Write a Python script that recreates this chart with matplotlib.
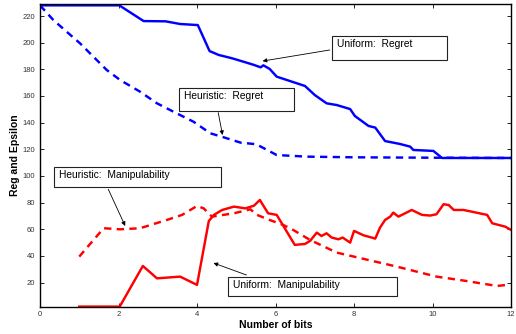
import numpy as np
import matplotlib.pyplot as plt
from matplotlib.patches import Rectangle

plt.rcParams['font.family'] = ['Liberation Sans', 'DejaVu Sans']

# Uniform: Regret (solid blue)
ur_x = [0, 2.02, 2.64, 3.2, 3.57, 4.02, 4.32, 4.55, 4.89, 5.23, 5.45, 5.62, 5.69, 5.85,
        6.03, 6.37, 6.75, 7.0, 7.3, 7.56, 7.9, 8.02, 8.37, 8.54, 8.79, 9.17, 9.43, 9.51,
        10.02, 10.24, 12]
ur_y = [228, 228, 216.2, 216, 214, 213.2, 193.7, 190.8, 188.3, 185.3, 183.3, 181.5, 183, 180.3,
        174.5, 171.2, 167.5, 160.7, 154.5, 153.2, 150.2, 145, 137.5, 136.3, 126.2, 124, 122, 119.5,
        118.8, 113.5, 113.5]

# Heuristic: Regret (dashed blue)
hr_x = [0, 0.34, 0.68, 1.02, 1.36, 1.7, 2.04, 2.55, 2.98, 3.4, 3.91, 4.34, 4.68, 5.11,
        5.51, 6.03, 6.8, 8.0, 10.0, 12]
hr_y = [228, 217, 208.2, 199.5, 189.5, 179.5, 172, 163.2, 154.5, 148.2, 140.7, 132, 129, 125,
        123.8, 115.7, 114.5, 114, 113.7, 113.5]

# Heuristic: Manipulability (dashed red)
hm_x = [1.0, 1.62, 2.04, 2.55, 3.23, 3.62, 4.0, 4.17, 4.38, 4.94, 5.36, 5.51, 5.85, 6.2,
        6.45, 6.88, 7.56, 8.07, 9.09, 10.1, 10.8, 11.64, 11.9]
hm_y = [39.5, 60.8, 60, 60.8, 67, 70.8, 77.5, 75.7, 69.5, 72, 75, 71, 67, 63.2,
        59.5, 52, 42.5, 39, 32, 24.5, 21.5, 17.5, 18.3]

# Uniform: Manipulability (solid red)
um_x = [1.0, 2.03, 2.62, 2.98, 3.57, 4.0, 4.3, 4.43, 4.64, 4.94, 5.23, 5.45, 5.6, 5.81,
        6.03, 6.49, 6.75, 6.88, 7.05, 7.17, 7.3, 7.43, 7.6, 7.71, 7.9, 8.0, 8.24, 8.45,
        8.54, 8.66, 8.79, 8.92, 9.0, 9.13, 9.3, 9.47, 9.73, 9.94, 10.1, 10.28, 10.41, 10.54,
        10.79, 11.39, 11.52, 11.85, 12]
um_y = [2, 2, 32.5, 23.2, 24.5, 18.3, 66.2, 70.8, 74.5, 77, 75.7, 77.7, 82, 72,
        70.8, 48.3, 49, 51.3, 57.5, 55, 57, 53.8, 52.5, 53.8, 50, 58.8, 55.5, 53.8,
        53, 61.2, 67, 69.5, 72.5, 69.5, 72, 74.5, 70.8, 70.3, 71.3, 78.8, 78.2, 74.5,
        74.5, 70.8, 64.5, 62, 59.5]

fig = plt.figure(figsize=(5.16, 3.34), dpi=100)
ax = fig.add_axes([0.0775, 0.082, 0.913, 0.906])

dash = (3.0, 2.2)
ax.plot(ur_x, ur_y, color='#0000ff', lw=1.75)
ax.plot(hr_x, hr_y, color='#0000ff', lw=1.75, ls=(0, dash))
ax.plot(hm_x, hm_y, color='#ff0000', lw=1.75, ls=(0, dash))
ax.plot(um_x, um_y, color='#ff0000', lw=1.75)

ax.set_xlim(0, 12)
ax.set_ylim(2, 229)
ax.set_xticks(np.arange(0, 13, 2))
ax.set_yticks(np.arange(20, 221, 20))
ax.tick_params(direction='in', top=True, right=True, labelsize=5.5,
               labelcolor='#333333', length=3, width=0.6)
for s in ax.spines.values():
    s.set_linewidth(1.0)
ax.set_xlabel('Number of bits', fontsize=7.5, fontweight='bold', labelpad=1)
ax.set_ylabel('Reg and Epsilon', fontsize=7.5, fontweight='bold', labelpad=2)

# annotation boxes: (x0, y0, x1, y1) in data coords, text, arrow tail, arrow head
boxes = [
    ((7.45, 187, 10.37, 205), 'Uniform:  Regret', (7.38, 194.5), (5.67, 186.2)),
    ((3.55, 148.7, 6.46, 166), 'Heuristic:  Regret', (4.54, 147.5), (4.65, 130.7)),
    ((0.36, 91.7, 4.6, 106.7), 'Heuristic:  Manipulability', (1.74, 90), (2.17, 62.5)),
    ((4.8, 10, 9.09, 24.2), 'Uniform:  Manipulability', (5.26, 25.7), (4.42, 34.7)),
]
for (x0, y0, x1, y1), txt, tail, head in boxes:
    ax.add_patch(Rectangle((x0, y0), x1 - x0, y1 - y0, facecolor='white',
                           edgecolor='#222222', lw=0.8, zorder=4))
    ax.text(x0 + 0.12, y1 - 2.3, txt, fontsize=7.4, va='top', ha='left', zorder=5)
    ax.annotate('', xy=head, xytext=tail,
                arrowprops=dict(arrowstyle='-|>', color='black', lw=0.6,
                                mutation_scale=6, shrinkA=0, shrinkB=0), zorder=5)

fig.savefig('out.png', dpi=100)
